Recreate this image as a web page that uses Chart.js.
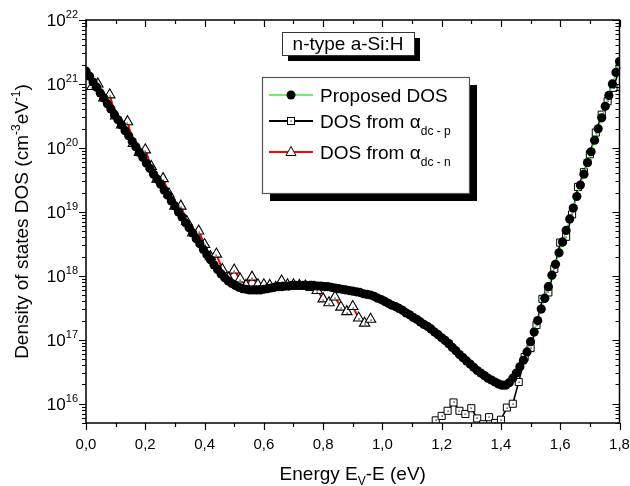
<!DOCTYPE html>
<html>
<head>
<meta charset="utf-8">
<script src="https://cdn.jsdelivr.net/npm/chart.js"></script>
<style>
  html, body { margin: 0; padding: 0; background: #fff; }
  canvas { display: block; }
</style>
</head>
<body>
<canvas id="chart" width="630" height="486"></canvas>
<script>
// values; DOS values are kept as log10 exponents (cm^-3 eV^-1)
const proposedEnergy = [
  0, 0.012, 0.024, 0.036, 0.048, 0.06, 0.072, 0.084, 0.096, 0.108,
  0.12, 0.132, 0.144, 0.156, 0.168, 0.18, 0.192, 0.204, 0.216, 0.228,
  0.24, 0.252, 0.264, 0.276, 0.288, 0.3, 0.312, 0.324, 0.336, 0.348,
  0.36, 0.372, 0.384, 0.396, 0.408, 0.42, 0.432, 0.444, 0.456, 0.468,
  0.48, 0.492, 0.504, 0.516, 0.528, 0.54, 0.552, 0.564, 0.576, 0.588,
  0.6, 0.612, 0.624, 0.636, 0.648, 0.66, 0.672, 0.684, 0.696, 0.708,
  0.72, 0.732, 0.744, 0.756, 0.768, 0.78, 0.792, 0.804, 0.816, 0.828,
  0.84, 0.852, 0.864, 0.876, 0.888, 0.9, 0.912, 0.924, 0.936, 0.948,
  0.96, 0.972, 0.984, 0.996, 1.008, 1.02, 1.032, 1.044, 1.056, 1.068,
  1.08, 1.092, 1.104, 1.116, 1.128, 1.14, 1.152, 1.164, 1.176, 1.188,
  1.2, 1.212, 1.224, 1.236, 1.248, 1.26, 1.272, 1.284, 1.296, 1.308,
  1.32, 1.332, 1.344, 1.356, 1.368, 1.38, 1.392, 1.404, 1.416, 1.428,
  1.44, 1.452, 1.464, 1.476, 1.488, 1.5, 1.512, 1.524, 1.536, 1.548,
  1.56, 1.572, 1.584, 1.596, 1.608, 1.62, 1.632, 1.644, 1.656, 1.668,
  1.68, 1.692, 1.704, 1.716, 1.728, 1.74, 1.752, 1.764, 1.776, 1.788,
  1.8
];
const proposedExp = [
  21.20, 21.12, 21.03, 20.95, 20.86, 20.78, 20.69, 20.61, 20.52, 20.44,
  20.36, 20.27, 20.19, 20.10, 20.02, 19.93, 19.85, 19.76, 19.68, 19.59,
  19.51, 19.43, 19.34, 19.26, 19.17, 19.09, 19.00, 18.92, 18.83, 18.75,
  18.67, 18.58, 18.50, 18.41, 18.33, 18.25, 18.17, 18.10, 18.03, 17.97,
  17.92, 17.88, 17.85, 17.82, 17.80, 17.79, 17.78, 17.78, 17.78, 17.78,
  17.79, 17.80, 17.81, 17.82, 17.83, 17.83, 17.84, 17.84, 17.85, 17.85,
  17.85, 17.85, 17.85, 17.85, 17.85, 17.84, 17.84, 17.83, 17.83, 17.82,
  17.81, 17.80, 17.79, 17.78, 17.77, 17.76, 17.75, 17.74, 17.72, 17.71,
  17.70, 17.68, 17.65, 17.63, 17.60, 17.57, 17.54, 17.52, 17.49, 17.46,
  17.42, 17.39, 17.35, 17.32, 17.28, 17.24, 17.21, 17.17, 17.12, 17.08,
  17.03, 16.99, 16.94, 16.88, 16.83, 16.77, 16.72, 16.67, 16.62, 16.57,
  16.52, 16.48, 16.44, 16.40, 16.37, 16.34, 16.31, 16.29, 16.29, 16.33,
  16.40, 16.48, 16.58, 16.68, 16.81, 16.97, 17.12, 17.30, 17.48, 17.65,
  17.83, 18.01, 18.18, 18.36, 18.53, 18.71, 18.89, 19.06, 19.24, 19.42,
  19.59, 19.77, 19.94, 20.12, 20.30, 20.47, 20.65, 20.82, 21.00, 21.18,
  21.35
];

const dcpEnergy = [
  1.18, 1.2, 1.22, 1.24, 1.26, 1.28, 1.3, 1.32, 1.34, 1.36, 1.38,
  1.4, 1.42, 1.44, 1.46, 1.48, 1.5, 1.52, 1.54, 1.56, 1.58,
  1.6, 1.62, 1.64, 1.66, 1.68, 1.7, 1.72, 1.74, 1.76, 1.78, 1.8
];
const dcpExp = [
  15.74, 15.81, 15.89, 16.02, 15.89, 15.84, 15.93, 15.77, 15.68, 15.79, 15.70,
  15.75, 15.94, 16.00, 16.34, 16.73, 16.87, 17.23, 17.64, 17.74, 18.11,
  18.52, 18.61, 18.96, 19.39, 19.62, 19.90, 20.24, 20.52, 20.73, 20.94, 21.25
];

const dcnEnergy = [
  0.02, 0.04, 0.06, 0.08, 0.1, 0.12, 0.14, 0.16, 0.18, 0.2,
  0.22, 0.24, 0.26, 0.28, 0.3, 0.32, 0.34, 0.36, 0.38, 0.4,
  0.42, 0.44, 0.46, 0.48, 0.5, 0.52, 0.54, 0.56, 0.58, 0.6,
  0.62, 0.64, 0.66, 0.68, 0.7, 0.72, 0.74, 0.76, 0.78, 0.8,
  0.82, 0.84, 0.86, 0.88, 0.9, 0.92, 0.94, 0.96
];
const dcnExp = [
  20.96, 21.00, 20.78, 20.83, 20.50, 20.36, 20.41, 20.07, 19.93, 19.97,
  19.71, 19.51, 19.52, 19.28, 19.09, 19.09, 18.85, 18.67, 18.70, 18.49,
  18.30, 18.34, 18.10, 17.97, 18.09, 17.95, 17.85, 17.98, 17.86, 17.86,
  17.85, 17.82, 17.92, 17.86, 17.86, 17.85, 17.84, 17.82, 17.77, 17.64,
  17.58, 17.67, 17.51, 17.44, 17.52, 17.34, 17.26, 17.32
];

const xTickValues = [0, 0.2, 0.4, 0.6, 0.8, 1.0, 1.2, 1.4, 1.6, 1.8];
const xTickLabels = ['0,0', '0,2', '0,4', '0,6', '0,8', '1,0', '1,2', '1,4', '1,6', '1,8'];
const yTickExponents = [16, 17, 18, 19, 20, 21, 22];

const FONT = '"Liberation Sans", Arial, sans-serif';
const GREEN = '#3ee83e';

function toPoints(xs, exps) {
  return xs.map((x, i) => ({ x: x, y: Math.pow(10, exps[i]) }));
}

function drawRuns(ctx, runs, x, y, align) {
  let w = 0;
  runs.forEach(r => {
    ctx.font = r.size + 'px ' + FONT;
    r.w = ctx.measureText(r.t).width;
    w += r.w;
  });
  let cx = align === 'center' ? x - w / 2 : (align === 'right' ? x - w : x);
  ctx.textAlign = 'left';
  ctx.textBaseline = 'alphabetic';
  runs.forEach(r => {
    ctx.font = r.size + 'px ' + FONT;
    ctx.fillText(r.t, cx, y + (r.dy || 0));
    cx += r.w;
  });
}

// tiny centre dot that the open symbols carry
const centreDots = {
  id: 'centreDots',
  afterDatasetDraw(chart, args) {
    if (!chart.data.datasets[args.index].centreDot) return;
    const { ctx, chartArea: a } = chart;
    ctx.save();
    ctx.fillStyle = '#000';
    args.meta.data.forEach(p => {
      if (p.x < a.left || p.x > a.right || p.y < a.top || p.y > a.bottom) return;
      ctx.fillRect(Math.round(p.x) - 0.5, Math.round(p.y) - 0.5 + (args.index === 1 ? 1 : 0), 1.2, 1.2);
    });
    ctx.restore();
  }
};

const decorations = {
  id: 'decorations',
  afterDraw(chart) {
    const { ctx, chartArea: a, scales: { x, y } } = chart;
    ctx.save();
    ctx.fillStyle = '#000';
    ctx.strokeStyle = '#000';

    // frame
    ctx.lineWidth = 1.5;
    ctx.strokeRect(a.left, a.top, a.right - a.left, a.bottom - a.top);

    // ticks on x (bottom outward, top inward)
    ctx.lineWidth = 1.2;
    ctx.beginPath();
    for (let k = 0; k <= 18; k++) {
      const px = Math.round(x.getPixelForValue(k / 10)) + 0.5;
      const len = k % 2 === 0 ? 7 : 4;
      ctx.moveTo(px, a.bottom); ctx.lineTo(px, a.bottom + len);
      ctx.moveTo(px, a.top); ctx.lineTo(px, a.top + len);
    }
    // ticks on y (left outward, right inward)
    for (let d = 15; d <= 22; d++) {
      for (let m = 1; m <= 9; m++) {
        const v = m * Math.pow(10, d);
        if (v < y.min * 0.999 || v > y.max * 1.001) continue;
        const py = Math.round(y.getPixelForValue(v)) + 0.5;
        const len = m === 1 ? 7 : 4;
        ctx.moveTo(a.left, py); ctx.lineTo(a.left - len, py);
        ctx.moveTo(a.right, py); ctx.lineTo(a.right - len, py);
      }
    }
    ctx.stroke();

    // x tick labels
    ctx.font = '15px ' + FONT;
    ctx.textAlign = 'center';
    ctx.textBaseline = 'middle';
    xTickValues.forEach((v, i) => {
      ctx.fillText(xTickLabels[i], x.getPixelForValue(v), a.bottom + 22);
    });

    // y tick labels 10^n
    yTickExponents.forEach(e => {
      const py = y.getPixelForValue(Math.pow(10, e));
      drawRuns(ctx, [{ t: '10', size: 17 }, { t: String(e), size: 11, dy: -8 }], a.left - 8, py + 6, 'right');
    });

    // axis titles
    drawRuns(ctx, [
      { t: 'Energy E', size: 19 },
      { t: 'V', size: 12, dy: 5 },
      { t: '-E (eV)', size: 19 }
    ], (a.left + a.right) / 2, 480, 'center');

    ctx.save();
    ctx.translate(28, (a.top + a.bottom) / 2);
    ctx.rotate(-Math.PI / 2);
    drawRuns(ctx, [
      { t: 'Density of states DOS (cm', size: 19 },
      { t: '-3', size: 12, dy: -8 },
      { t: 'eV', size: 19 },
      { t: '-1', size: 12, dy: -8 },
      { t: ')', size: 19 }
    ], 0, 0, 'center');
    ctx.restore();

    // title box with shadow
    const tb = { x: 282, y: 32, w: 132, h: 23 };
    ctx.fillRect(tb.x + 6, tb.y + 6, tb.w, tb.h);
    ctx.fillStyle = '#fff';
    ctx.fillRect(tb.x, tb.y, tb.w, tb.h);
    ctx.lineWidth = 1;
    ctx.strokeStyle = '#333';
    ctx.strokeRect(tb.x + 0.5, tb.y + 0.5, tb.w, tb.h);
    ctx.fillStyle = '#000';
    drawRuns(ctx, [{ t: 'n-type a-Si:H', size: 19 }], tb.x + tb.w / 2, tb.y + 18, 'center');

    // legend box with shadow
    const lb = { x: 262, y: 77, w: 207, h: 116 };
    ctx.fillStyle = '#000';
    ctx.fillRect(lb.x + 8, lb.y + 8, lb.w, lb.h);
    ctx.fillStyle = '#fff';
    ctx.fillRect(lb.x, lb.y, lb.w, lb.h);
    ctx.strokeStyle = '#555';
    ctx.lineWidth = 1.2;
    ctx.strokeRect(lb.x + 0.5, lb.y + 0.5, lb.w, lb.h);

    const lx0 = 269, lx1 = 313, mx = 291, tx = 320;
    const rows = [95, 121, 152];
    // row 1: proposed
    ctx.strokeStyle = GREEN; ctx.lineWidth = 1.5;
    ctx.beginPath(); ctx.moveTo(lx0, rows[0]); ctx.lineTo(lx1, rows[0]); ctx.stroke();
    ctx.fillStyle = '#000';
    ctx.beginPath(); ctx.arc(mx, rows[0], 4.5, 0, Math.PI * 2); ctx.fill();
    drawRuns(ctx, [{ t: 'Proposed DOS', size: 19 }], tx, rows[0] + 7, 'left');
    // row 2: alpha dc-p
    ctx.strokeStyle = '#000'; ctx.lineWidth = 2;
    ctx.beginPath(); ctx.moveTo(lx0, rows[1]); ctx.lineTo(lx1, rows[1]); ctx.stroke();
    ctx.fillStyle = '#fff'; ctx.lineWidth = 1;
    ctx.fillRect(mx - 3.5, rows[1] - 3.5, 7, 7);
    ctx.strokeRect(mx - 3.5, rows[1] - 3.5, 7, 7);
    ctx.fillStyle = '#000';
    ctx.fillRect(mx - 0.5, rows[1] - 0.5, 1.2, 1.2);
    drawRuns(ctx, [{ t: 'DOS from \u03b1', size: 19 }, { t: 'dc - p', size: 12, dy: 7 }], tx, rows[1] + 7, 'left');
    // row 3: alpha dc-n
    ctx.strokeStyle = '#ff0000'; ctx.lineWidth = 2;
    ctx.beginPath(); ctx.moveTo(lx0, rows[2]); ctx.lineTo(lx1, rows[2]); ctx.stroke();
    ctx.strokeStyle = '#000'; ctx.lineWidth = 1;
    ctx.fillStyle = '#fff';
    ctx.beginPath();
    ctx.moveTo(mx, rows[2] - 5.5); ctx.lineTo(mx + 5, rows[2] + 3.5); ctx.lineTo(mx - 5, rows[2] + 3.5); ctx.closePath();
    ctx.fill(); ctx.stroke();
    ctx.fillStyle = '#000';
    drawRuns(ctx, [{ t: 'DOS from \u03b1', size: 19 }, { t: 'dc - n', size: 12, dy: 7 }], tx, rows[2] + 7, 'left');

    ctx.restore();
  }
};

// lower order is painted last, so the proposed circles sit on top of the other symbols
new Chart(document.getElementById('chart'), {
  type: 'scatter',
  data: {
    datasets: [
      {
        label: 'Proposed DOS',
        data: toPoints(proposedEnergy, proposedExp),
        showLine: true,
        borderColor: GREEN,
        borderWidth: 1.2,
        pointStyle: 'circle',
        pointRadius: 4.6,
        pointBorderWidth: 0,
        pointBackgroundColor: '#000',
        order: 0
      },
      {
        label: 'DOS from \u03b1dc-n (symbols)',
        data: toPoints(dcnEnergy, dcnExp),
        showLine: false,
        pointStyle: 'triangle',
        pointRadius: 6,
        pointBackgroundColor: '#fff',
        pointBorderColor: '#000',
        pointBorderWidth: 1.1,
        centreDot: true,
        order: 1
      },
      {
        label: 'DOS from \u03b1dc-p',
        data: toPoints(dcpEnergy, dcpExp),
        showLine: true,
        borderColor: '#000',
        borderWidth: 1.6,
        pointStyle: 'rect',
        pointRadius: 5,
        pointBackgroundColor: '#fff',
        pointBorderColor: '#000',
        pointBorderWidth: 1,
        centreDot: true,
        order: 2
      },
      {
        label: 'DOS from \u03b1dc-n',
        data: toPoints(dcnEnergy, dcnExp),
        showLine: true,
        borderColor: '#ff0000',
        borderWidth: 2,
        pointRadius: 0,
        order: 3
      }
    ]
  },
  options: {
    responsive: false,
    animation: false,
    events: [],
    layout: { padding: { left: 86, right: 10.5, top: 20, bottom: 63 } },
    plugins: {
      legend: { display: false },
      tooltip: { enabled: false }
    },
    scales: {
      x: { type: 'linear', min: 0, max: 1.8, display: false },
      y: { type: 'logarithmic', min: 5e15, max: 1e22, display: false }
    }
  },
  plugins: [centreDots, decorations]
});
</script>
</body>
</html>
